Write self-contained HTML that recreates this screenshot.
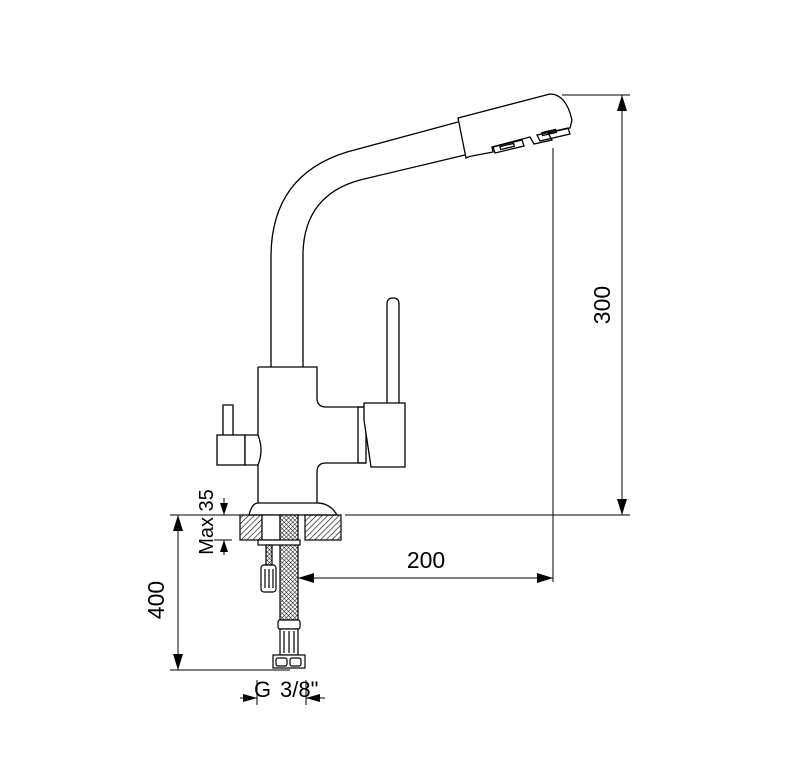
<!DOCTYPE html>
<html><head><style>body{margin:0;background:#fff}svg{display:block}</style></head><body>
<svg width="785" height="783" viewBox="0 0 785 783" xmlns="http://www.w3.org/2000/svg" font-family="Liberation Sans, sans-serif">
<defs>
<pattern id="h" width="4" height="4" patternUnits="userSpaceOnUse" patternTransform="rotate(45)"><line x1="0" y1="0" x2="0" y2="4" stroke="#000" stroke-width="1.2"/></pattern>
<pattern id="x" width="3" height="3" patternUnits="userSpaceOnUse" patternTransform="rotate(45)"><rect width="3" height="3" fill="#fff"/><path d="M0 0H3M0 0V3" stroke="#000" stroke-width="0.9"/></pattern>
</defs>
<g fill="none" stroke="#000" stroke-width="1.3">
<path d="M271 367 V255 Q272 175 347 152 L458 122"/>
<path d="M303 367 V252 Q305 195 360 180 L465 155"/>
<path d="M458 118 L550 94 Q566 94 572 120 L570 128 L548 133 L552 140 L534 144 L530 137 L492 147 L493 152 L472 156 Q470 156 466 158 L458 118 Z" fill="#fff"/>
<path d="M537 135 L568 128 L570 134 L540 141 Z"/>
<rect x="542" y="131" width="14" height="3" transform="rotate(-13 549 132)"/>
<path d="M493 147 L522 140 L524 146 L495 153 Z"/>
<rect x="500" y="145" width="14" height="3" transform="rotate(-13 507 146)"/>
<path d="M258 367 H317 V398 Q317 407 326 407 H366 M366 463 H326 Q317 463 317 472 V503 M258 367 V503" fill="#fff"/>
<path d="M258 503 H317 Q330 503 337 515 H249 Q252 503 258 503 Z" fill="#fff"/>
<path d="M387 403 V304 Q387 298 393 298 Q399 298 399 304 V403"/>
<path d="M358 407 H366 V463 H358 Z"/>
<path d="M364 403 H405 V467 H371 L364 420 Z" fill="#fff"/>
<path d="M223 435 V405 H233 V435"/>
<rect x="217" y="435" width="28" height="30" fill="#fff"/>
<path d="M245 435 H258 Q264 450 258 465 H245 Z" fill="#fff"/>
</g>
<rect x="240" y="515" width="22" height="25" fill="url(#h)" stroke="#000" stroke-width="1.2"/>
<rect x="305" y="515" width="36" height="25" fill="url(#h)" stroke="#000" stroke-width="1.2"/>
<rect x="262" y="515" width="18" height="25" fill="#fff" stroke="#000" stroke-width="1.2"/>
<rect x="280" y="515" width="18" height="105" fill="url(#x)" stroke="#000" stroke-width="1.2"/>
<g fill="none" stroke="#000" stroke-width="1.2">
<rect x="258" y="540" width="42" height="5" fill="#fff"/>
<rect x="266" y="545" width="6" height="20" fill="url(#x)"/>
<rect x="261" y="565" width="15" height="27" rx="3" fill="#fff"/>
<path d="M265 569 V588 M269 569 V588 M273 569 V588"/>
<rect x="278" y="620" width="22" height="9" rx="2" fill="#fff"/>
<rect x="280" y="629" width="18" height="26" fill="#fff"/>
<path d="M284 631 V653 M289 631 V653 M294 631 V653"/>
<rect x="273" y="655" width="32" height="13" fill="#fff"/>
<rect x="276" y="658" width="11" height="8" rx="2"/>
<rect x="290" y="658" width="11" height="8" rx="2"/>
</g>
<g stroke="#000" stroke-width="1" fill="none">
<path d="M562 95 H630 M622 95 V515 M345 515 H630 M553 148 V582 M298 578 H553"/>
<path d="M170 515 H240 M178 515 V670 M170 670 H290"/>
<path d="M224 498 V515 M224 540 V555 M214 540 H232"/>
<path d="M257 680 V705 M306 680 V705 M240 698 H257 M306 698 H325"/>
</g>
<g fill="#000">
<path d="M622 95 l-5 16 h10 z M622 515 l-5 -16 h10 z"/>
<path d="M298 578 l16 -5 v10 z M553 578 l-16 -5 v10 z"/>
<path d="M178 515 l-5 16 h10 z M178 670 l-5 -16 h10 z"/>
<path d="M224 515 l-4 -12 h8 z M224 540 l-4 12 h8 z"/>
<path d="M257 698 l-14 -4 v8 z M306 698 l14 -4 v8 z"/>
</g>
<g font-size="23" fill="#000">
<text transform="translate(610 305) rotate(-90)" text-anchor="middle">300</text>
<text x="426" y="568" text-anchor="middle">200</text>
<text transform="translate(164 600) rotate(-90)" text-anchor="middle">400</text>
<text transform="translate(213 522) rotate(-90)" text-anchor="middle" font-size="20">Max 35</text>
<text x="254" y="697" font-size="22">G</text>
<text x="280" y="697" font-size="22">3/8"</text>
</g>
</svg>
</body></html>
